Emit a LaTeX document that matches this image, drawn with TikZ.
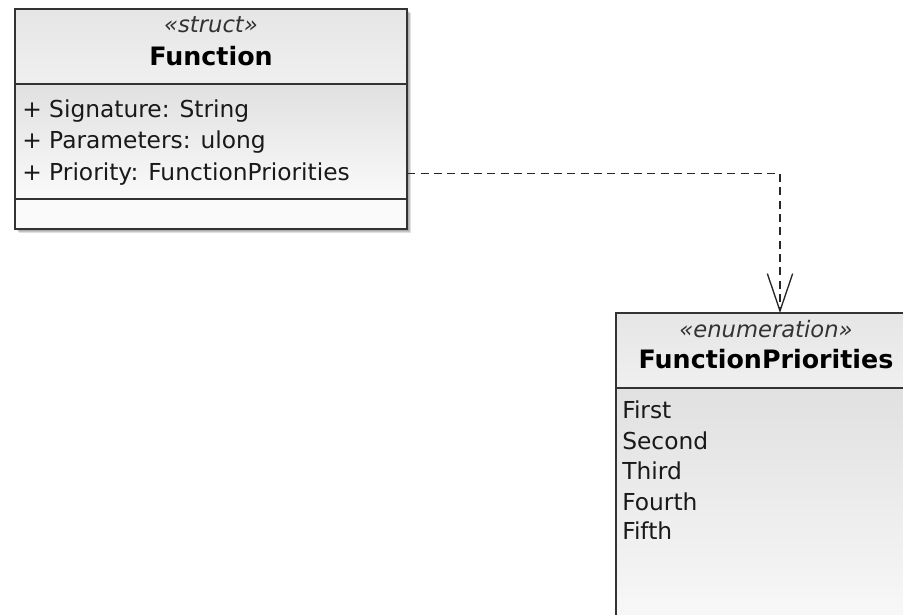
\documentclass[tikz,border=0pt]{standalone}
\usepackage{fontspec}
\setmainfont{DejaVu Sans}
\usetikzlibrary{arrows.meta,fit}

\begin{document}
\begin{tikzpicture}[x=0.75pt,y=-0.75pt,
    stereo/.style={font=\fontsize{17}{20}\selectfont\itshape, text=black!80, inner sep=0pt},
    classname/.style={font=\fontsize{19}{22}\selectfont\bfseries, anchor=base, inner sep=0pt},
    attr/.style={font=\fontsize{17.5}{20}\selectfont, anchor=base west, inner sep=0pt, text=black!90},
    frame/.style={draw=black!80, line width=1.4pt},
    boxshadow/.style={fill=black, opacity=0.12},
    dep/.style={draw=black!85, line width=1pt, dash pattern=on 6pt off 4pt,
        -{Straight Barb[length=28pt,width=19pt,line width=1pt]}}]
    \clip (0,0) rectangle (903,614);
    \fill[white] (0,0) rectangle (903,614);

    % Function
    \foreach \d in {2,3,4}
        \fill[boxshadow] (15+\d,9+\d) rectangle (407+\d,229+\d);
    \shade[top color=black!10, bottom color=black!6] (15,9) rectangle (407,84);
    \shade[top color=black!12, bottom color=black!2] (15,84) rectangle (407,199);
    \fill[black!2] (15,199) rectangle (407,229);
    \node[fit={(15,9) (407,229)}, inner sep=0pt] (fn) {};
    \draw[frame] (15,9) rectangle (407,229);
    \draw[frame] (15,84) -- (407,84);
    \draw[frame] (15,199) -- (407,199);
    \node[stereo] (fnstereo) at (211,25) {«struct»};
    \node[classname] (fnname) at (211,65) {Function};
    \node[attr] (sig) at (22,117) {+ Signature: String};
    \node[attr] (params) at (22,148) {+ Parameters: ulong};
    \node[attr] (prio) at (22,180) {+ Priority: FunctionPriorities};

    % FunctionPriorities
    \foreach \d in {2,3,4}
        \fill[boxshadow] (616+\d,313+\d) rectangle (920+\d,640+\d);
    \shade[top color=black!10, bottom color=black!6] (616,313) rectangle (920,388);
    \shade[top color=black!12, bottom color=black!2] (616,388) rectangle (920,640);
    \node[fit={(616,313) (920,640)}, inner sep=0pt] (enum) {};
    \draw[frame] (616,313) rectangle (920,640);
    \draw[frame] (616,388) -- (920,388);
    \node[stereo] (enumstereo) at (766,329) {«enumeration»};
    \node[classname] (enumname) at (766,368) {FunctionPriorities};
    \node[attr] (first) at (622,418) {First};
    \node[attr] (second) at (622,449) {Second};
    \node[attr] (third) at (622,479) {Third};
    \node[attr] (fourth) at (622,510) {Fourth};
    \node[attr] (fifth) at (622,539) {Fifth};

    % dependency
    \coordinate (tgt) at (780,313);
    \draw[dep] (fn.east |- prio) -| (tgt);
\end{tikzpicture}
\end{document}
